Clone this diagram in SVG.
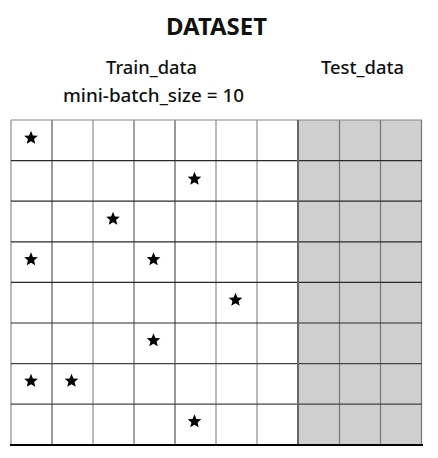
<svg xmlns="http://www.w3.org/2000/svg" width="438" height="458" viewBox="0 0 438 458">
<style>
text{font-family:"Noto Sans","Liberation Sans",Arial,sans-serif;fill:#111;text-anchor:middle}
.t{font-size:23px;font-weight:bold}
.h{font-size:17.5px;font-weight:500}
.v{stroke:#8a8a8a;stroke-width:1.2}
.hl{stroke:#2a2a2a;stroke-width:1.2}
</style>
<defs>
<path id="star" d="M0,-7.2 L1.9,-2.6 L6.85,-2.22 L3.07,1.0 L4.23,5.83 L0,3.2 L-4.23,5.83 L-3.07,1.0 L-6.85,-2.22 L-1.9,-2.6 Z" fill="#000"/>
</defs>
<rect width="438" height="458" fill="#fff"/>
<g id="labels">
<text class="t" x="216.5" y="35" textLength="101" lengthAdjust="spacingAndGlyphs">DATASET</text>
<text class="h" x="151.5" y="74" textLength="91" lengthAdjust="spacingAndGlyphs">Train_data</text>
<text class="h" x="362.5" y="74" textLength="83" lengthAdjust="spacingAndGlyphs">Test_data</text>
<text class="h" x="153.5" y="102" textLength="181" lengthAdjust="spacingAndGlyphs">mini-batch_size = 10</text>
</g>
<g id="grid">
<rect x="298" y="120" width="124" height="325" fill="#d0cfd0"/>
<g class="v">
<line x1="11" y1="120" x2="11" y2="445"/>
<line x1="52" y1="120" x2="52" y2="445" stroke="#555"/>
<line x1="93" y1="120" x2="93" y2="445"/>
<line x1="134" y1="120" x2="134" y2="445" stroke="#666"/>
<line x1="175" y1="120" x2="175" y2="445" stroke="#555"/>
<line x1="216" y1="120" x2="216" y2="445"/>
<line x1="257" y1="120" x2="257" y2="445"/>
<line x1="339.5" y1="120" x2="339.5" y2="445" stroke="#777"/>
<line x1="380.5" y1="120" x2="380.5" y2="445" stroke="#777"/>
<line x1="421.5" y1="120" x2="421.5" y2="445" stroke="#777"/>
</g>
<g class="hl">
<line x1="11" y1="120" x2="422" y2="120" stroke="#888"/>
<line x1="11" y1="160.6" x2="422" y2="160.6"/>
<line x1="11" y1="201.2" x2="422" y2="201.2"/>
<line x1="11" y1="241.8" x2="422" y2="241.8"/>
<line x1="11" y1="282.4" x2="422" y2="282.4"/>
<line x1="11" y1="323" x2="422" y2="323"/>
<line x1="11" y1="363.6" x2="422" y2="363.6" stroke="#444"/>
<line x1="11" y1="404.2" x2="422" y2="404.2" stroke="#444"/>
</g>
<line x1="298" y1="120" x2="298" y2="445" stroke="#666" stroke-width="2"/>
<line x1="10" y1="445" x2="423" y2="445" stroke="#000" stroke-width="2.2"/>
</g>
<g id="stars">
<use href="#star" x="31" y="138"/>
<use href="#star" x="194.5" y="179"/>
<use href="#star" x="113" y="219"/>
<use href="#star" x="31" y="259.5"/>
<use href="#star" x="153.5" y="259.5"/>
<use href="#star" x="235.5" y="300"/>
<use href="#star" x="153.5" y="340.5"/>
<use href="#star" x="31" y="381"/>
<use href="#star" x="71.5" y="381"/>
<use href="#star" x="194.5" y="421.5"/>
</g>
</svg>
